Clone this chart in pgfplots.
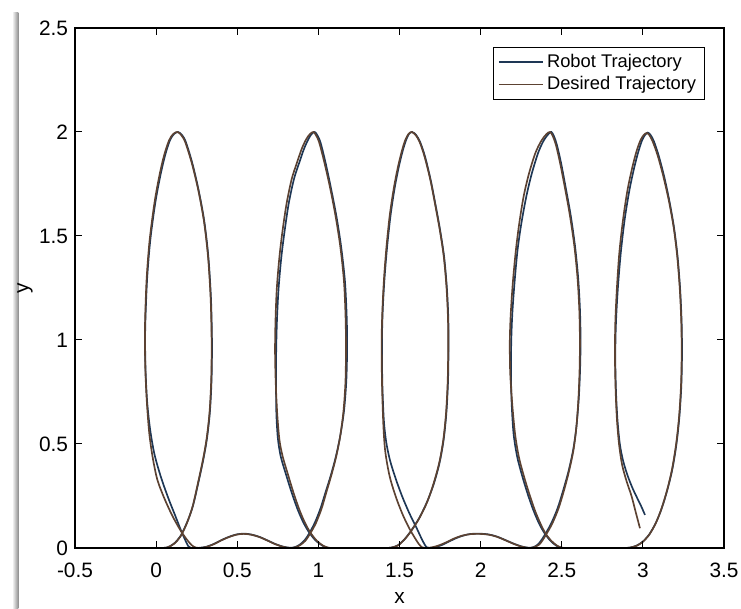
\documentclass[border=0pt]{standalone}
\usepackage{fontspec}
\setmainfont{Liberation Sans}
\usepackage{pgfplots}
\pgfplotsset{compat=1.18}
\definecolor{robot}{RGB}{30,55,85}
\definecolor{desired}{RGB}{92,66,50}
\begin{document}
\begin{tikzpicture}
% soft shadow along the left edge of the figure
\shade[left color=white, right color=black!45] (-37.8pt,-36.6pt) rectangle (-33.9pt,321pt);
\begin{axis}[
  scale only axis, width=389.4pt, height=312pt,
  xmin=-0.5, xmax=3.5, ymin=0, ymax=2.5,
  xtick={-0.5,0,0.5,1,1.5,2,2.5,3,3.5},
  ytick={0,0.5,1,1.5,2,2.5},
  tick align=inside, xtick pos=both, ytick pos=both,
  major tick length=4pt,
  axis line style={line width=0.7pt},
  tick style={line width=0.6pt, black},
  /pgf/number format/assume math mode=true,
  ticklabel style={font=\fontsize{12.5}{14}\selectfont},
  yticklabel style={inner sep=4pt},
  xticklabel style={yshift=-5.7pt},
  xlabel={x}, ylabel={y},
  xlabel style={at={(axis description cs:0.5,-0.0962)}, anchor=center, font=\fontsize{12.5}{14}\selectfont},
  ylabel style={at={(axis description cs:-0.077,0.5)}, anchor=center, font=\fontsize{12.5}{14}\selectfont},
  legend style={at={(axis description cs:0.9707,0.9635)}, anchor=north east, draw=black, line width=0.6pt,
    font=\fontsize{11}{13}\selectfont, inner xsep=3pt, inner ysep=2pt, row sep=0pt, nodes={inner sep=2pt}},
  legend cell align=left,
  legend image code/.code={\draw[#1] (0pt,0pt) -- (26.4pt,0pt);},
  every axis plot/.append style={line width=1pt},
  axis on top, clip=false,
]
% robot path: loops, bumps and flat runs in the order they were travelled
\addplot[robot, smooth] coordinates {
(0.03,0) (0.07,0.003) (0.11,0.021) (0.15,0.057) (0.19,0.122) (0.226,0.2) (0.262,0.32) (0.292,0.43) (0.314,0.53) (0.332,0.66) (0.342,0.82) (0.344,1.0) (0.338,1.2) (0.322,1.4) (0.297,1.57) (0.262,1.72) (0.223,1.85) (0.184,1.95) (0.16,1.985) (0.135,2.0) (0.11,1.99) (0.085,1.96) (0.056,1.89) (0.026,1.79) (-0.005,1.66) (-0.036,1.48) (-0.055,1.3) (-0.065,1.12) (-0.068,1.0) (-0.065,0.85) (-0.055,0.7) (-0.037,0.57) (-0.01,0.45) (0.03,0.34) (0.075,0.24) (0.118,0.155) (0.153,0.085) (0.18,0.037) (0.198,0.009) (0.215,0) (0.25,0) (0.28,0.002)
(0.31,0.006) (0.355,0.019) (0.40,0.037) (0.45,0.054) (0.495,0.065) (0.54,0.069) (0.585,0.065) (0.635,0.054) (0.685,0.037) (0.735,0.019) (0.785,0.006) (0.825,0.001)
(0.855,0.004) (0.885,0.016) (0.915,0.037) (0.945,0.072) (0.98,0.125) (1.013,0.19) (1.045,0.27) (1.077,0.35) (1.108,0.44) (1.135,0.54) (1.158,0.66) (1.172,0.8) (1.177,0.95) (1.175,1.1) (1.164,1.28) (1.14,1.45) (1.11,1.6) (1.075,1.74) (1.042,1.86) (1.013,1.95) (0.993,1.985) (0.977,2.0) (0.958,1.99) (0.938,1.965) (0.912,1.92) (0.881,1.85) (0.85,1.775) (0.818,1.66) (0.793,1.53) (0.772,1.4) (0.755,1.25) (0.745,1.1) (0.74,0.95) (0.739,0.8) (0.741,0.65) (0.75,0.53) (0.768,0.44) (0.798,0.36) (0.834,0.27) (0.87,0.19) (0.906,0.125) (0.943,0.075) (0.983,0.036) (1.023,0.012) (1.053,0.002) (1.08,0)
(1.2,0) (1.3,0) (1.41,0)
(1.45,0.002) (1.49,0.013) (1.53,0.041) (1.57,0.081) (1.62,0.142) (1.67,0.222) (1.712,0.31) (1.747,0.41) (1.772,0.52) (1.789,0.65) (1.799,0.8) (1.802,0.95) (1.801,1.1) (1.792,1.25) (1.775,1.4) (1.75,1.53) (1.722,1.65) (1.692,1.77) (1.658,1.88) (1.628,1.95) (1.603,1.985) (1.578,2.0) (1.558,1.99) (1.54,1.96) (1.52,1.91) (1.495,1.83) (1.47,1.73) (1.445,1.6) (1.424,1.45) (1.408,1.3) (1.397,1.15) (1.392,1.0) (1.394,0.8) (1.403,0.62) (1.418,0.51) (1.442,0.42) (1.478,0.33) (1.518,0.245) (1.562,0.165) (1.603,0.1) (1.633,0.05) (1.654,0.018) (1.668,0.003) (1.685,0)
(1.72,0.004) (1.76,0.014) (1.80,0.029) (1.845,0.046) (1.89,0.059) (1.935,0.067) (1.99,0.069) (2.05,0.065) (2.10,0.055) (2.15,0.039) (2.20,0.022) (2.25,0.008) (2.295,0.001)
(2.325,0.004) (2.352,0.016) (2.372,0.035) (2.393,0.06) (2.433,0.115) (2.474,0.19) (2.51,0.28) (2.542,0.37) (2.57,0.47) (2.59,0.58) (2.605,0.72) (2.613,0.86) (2.616,1.0) (2.612,1.15) (2.601,1.3) (2.582,1.45) (2.555,1.6) (2.525,1.73) (2.496,1.85) (2.471,1.935) (2.452,1.98) (2.436,2.0) (2.418,1.99) (2.391,1.962) (2.357,1.905) (2.317,1.805) (2.283,1.695) (2.252,1.565) (2.228,1.435) (2.21,1.285) (2.196,1.135) (2.189,1.0) (2.187,0.85) (2.191,0.7) (2.203,0.55) (2.225,0.44) (2.255,0.35) (2.29,0.26) (2.326,0.18) (2.362,0.115) (2.395,0.07) (2.43,0.035) (2.465,0.012) (2.495,0.002) (2.525,0)
(2.65,0) (2.77,0) (2.88,0)
(2.92,0.002) (2.96,0.011) (3.0,0.031) (3.04,0.066) (3.08,0.121) (3.116,0.19) (3.151,0.28) (3.182,0.38) (3.207,0.5) (3.225,0.63) (3.237,0.78) (3.241,0.93) (3.239,1.08) (3.23,1.24) (3.214,1.4) (3.192,1.54) (3.163,1.67) (3.13,1.79) (3.096,1.89) (3.068,1.955) (3.048,1.985) (3.03,1.997) (3.013,1.985) (2.995,1.96) (2.972,1.905) (2.947,1.83) (2.917,1.72) (2.888,1.58) (2.864,1.42) (2.846,1.25) (2.834,1.08) (2.83,0.92) (2.834,0.76) (2.843,0.62) (2.858,0.5) (2.878,0.42) (2.905,0.35) (2.935,0.29) (2.962,0.245) (2.99,0.2) (3.013,0.159)
};
\addlegendentry{Robot Trajectory}
% reference path
\addplot[desired, smooth] coordinates {
(0.03,0) (0.07,0.003) (0.11,0.02) (0.15,0.055) (0.19,0.12) (0.225,0.2) (0.26,0.32) (0.29,0.43) (0.312,0.53) (0.33,0.66) (0.34,0.82) (0.342,1.0) (0.336,1.2) (0.32,1.4) (0.295,1.57) (0.26,1.72) (0.22,1.85) (0.18,1.95) (0.155,1.985) (0.131,2.0) (0.105,1.99) (0.08,1.96) (0.05,1.89) (0.02,1.79) (-0.01,1.66) (-0.04,1.48) (-0.058,1.3) (-0.067,1.12) (-0.069,1.0) (-0.066,0.85) (-0.057,0.7) (-0.042,0.55) (-0.02,0.43) (0.008,0.327) (0.05,0.24) (0.10,0.155) (0.15,0.085) (0.19,0.04) (0.22,0.013) (0.245,0.002) (0.27,0)
(0.31,0.005) (0.355,0.018) (0.40,0.036) (0.45,0.053) (0.495,0.064) (0.54,0.068) (0.585,0.064) (0.635,0.053) (0.685,0.036) (0.735,0.018) (0.785,0.005) (0.83,0)
(0.86,0.004) (0.89,0.015) (0.92,0.035) (0.95,0.07) (0.985,0.12) (1.02,0.19) (1.05,0.27) (1.08,0.35) (1.11,0.44) (1.135,0.54) (1.155,0.66) (1.167,0.8) (1.17,0.95) (1.168,1.1) (1.158,1.28) (1.135,1.45) (1.105,1.6) (1.07,1.74) (1.035,1.86) (1.005,1.95) (0.985,1.985) (0.969,2.0) (0.948,1.99) (0.925,1.965) (0.898,1.92) (0.867,1.85) (0.836,1.775) (0.805,1.66) (0.78,1.53) (0.76,1.4) (0.744,1.25) (0.736,1.1) (0.733,0.95) (0.737,0.8) (0.746,0.65) (0.76,0.52) (0.78,0.44) (0.81,0.36) (0.845,0.27) (0.88,0.19) (0.915,0.125) (0.95,0.075) (0.99,0.035) (1.03,0.011) (1.06,0.002) (1.09,0)
(1.2,0) (1.3,0) (1.41,0)
(1.45,0.002) (1.49,0.012) (1.53,0.04) (1.57,0.08) (1.62,0.14) (1.67,0.22) (1.71,0.31) (1.745,0.41) (1.77,0.52) (1.787,0.65) (1.797,0.8) (1.80,0.95) (1.799,1.1) (1.79,1.25) (1.773,1.4) (1.748,1.53) (1.72,1.65) (1.69,1.77) (1.655,1.88) (1.625,1.95) (1.6,1.985) (1.575,2.0) (1.555,1.99) (1.535,1.96) (1.515,1.91) (1.49,1.83) (1.465,1.73) (1.44,1.6) (1.42,1.45) (1.405,1.3) (1.395,1.15) (1.39,1.0) (1.392,0.8) (1.40,0.6) (1.41,0.48) (1.425,0.4) (1.445,0.327) (1.48,0.24) (1.52,0.16) (1.56,0.095) (1.595,0.048) (1.62,0.018) (1.64,0.003) (1.66,0)
(1.70,0.003) (1.745,0.013) (1.79,0.028) (1.835,0.045) (1.88,0.058) (1.93,0.066) (1.99,0.068) (2.05,0.064) (2.10,0.054) (2.15,0.038) (2.20,0.021) (2.25,0.007) (2.30,0)
(2.33,0.004) (2.36,0.016) (2.38,0.035) (2.40,0.06) (2.44,0.115) (2.48,0.19) (2.515,0.28) (2.545,0.37) (2.572,0.47) (2.59,0.58) (2.603,0.72) (2.61,0.86) (2.612,1.0) (2.608,1.15) (2.597,1.3) (2.578,1.45) (2.55,1.6) (2.52,1.73) (2.49,1.85) (2.465,1.935) (2.445,1.98) (2.428,2.0) (2.406,1.99) (2.376,1.96) (2.338,1.9) (2.298,1.8) (2.265,1.69) (2.238,1.56) (2.217,1.43) (2.199,1.28) (2.186,1.13) (2.18,1.0) (2.182,0.85) (2.194,0.7) (2.212,0.55) (2.235,0.44) (2.265,0.35) (2.30,0.26) (2.335,0.18) (2.37,0.115) (2.40,0.07) (2.435,0.035) (2.47,0.012) (2.50,0.002) (2.53,0)
(2.65,0) (2.77,0) (2.88,0)
(2.92,0.002) (2.96,0.01) (3.0,0.03) (3.04,0.065) (3.08,0.12) (3.115,0.19) (3.15,0.28) (3.18,0.38) (3.205,0.5) (3.223,0.63) (3.235,0.78) (3.239,0.93) (3.237,1.08) (3.228,1.24) (3.212,1.4) (3.19,1.54) (3.16,1.67) (3.125,1.79) (3.09,1.89) (3.06,1.955) (3.04,1.985) (3.023,1.995) (3.005,1.985) (2.985,1.96) (2.96,1.905) (2.935,1.83) (2.905,1.72) (2.878,1.58) (2.855,1.42) (2.84,1.25) (2.83,1.08) (2.828,0.92) (2.832,0.76) (2.84,0.62) (2.853,0.5) (2.872,0.4) (2.9,0.32) (2.93,0.25) (2.955,0.175) (2.982,0.095)
};
\addlegendentry{Desired Trajectory}
\end{axis}
\pgfresetboundingbox
\useasboundingbox (-45pt,-36.6pt) rectangle (399.6pt,328.8pt);
\end{tikzpicture}
\end{document}
